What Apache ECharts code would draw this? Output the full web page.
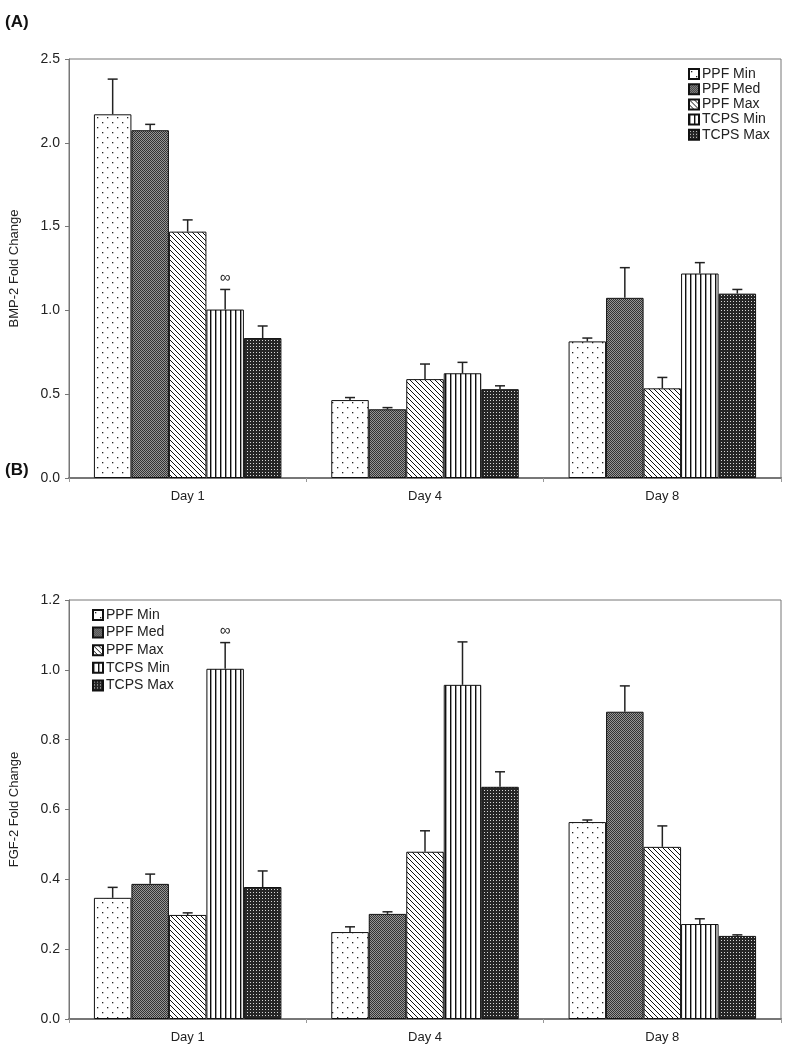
<!DOCTYPE html>
<html>
<head>
<meta charset="utf-8">
<script src="https://cdn.jsdelivr.net/npm/echarts@6/dist/echarts.min.js"></script>
<style>
html,body{margin:0;padding:0;background:#fff;}
#chart{width:795px;height:1050px;}
</style>
</head>
<body>
<div id="chart"></div>
<script>
// ---------- DATA ----------
const categories = ['Day 1', 'Day 4', 'Day 8'];
const seriesNames = ['PPF Min', 'PPF Med', 'PPF Max', 'TCPS Min', 'TCPS Max'];

// Panel A: BMP-2 fold change (mean) and upper error
const bmpPPFMin  = [2.17, 0.465, 0.815];
const bmpPPFMed  = [2.075, 0.41, 1.075];
const bmpPPFMax  = [1.47, 0.59, 0.535];
const bmpTCPSMin = [1.005, 0.625, 1.22];
const bmpTCPSMax = [0.835, 0.53, 1.10];
const bmpErrPPFMin  = [0.21, 0.015, 0.02];
const bmpErrPPFMed  = [0.035, 0.01, 0.18];
const bmpErrPPFMax  = [0.07, 0.09, 0.065];
const bmpErrTCPSMin = [0.12, 0.065, 0.065];
const bmpErrTCPSMax = [0.072, 0.02, 0.025];

// Panel B: FGF-2 fold change (mean) and upper error
const fgfPPFMin  = [0.347, 0.249, 0.564];
const fgfPPFMed  = [0.387, 0.301, 0.880];
const fgfPPFMax  = [0.298, 0.479, 0.493];
const fgfTCPSMin = [1.003, 0.957, 0.272];
const fgfTCPSMax = [0.378, 0.665, 0.238];
const fgfErrPPFMin  = [0.03, 0.015, 0.006];
const fgfErrPPFMed  = [0.028, 0.006, 0.074];
const fgfErrPPFMax  = [0.006, 0.06, 0.06];
const fgfErrTCPSMin = [0.075, 0.123, 0.015];
const fgfErrTCPSMax = [0.046, 0.043, 0.003];

// significance marks: [day index, series index]
const bmpMarks = [[0, 3]];
const fgfMarks = [[0, 3]];
const markSymbol = '∞';

const bmpTicks = {min: 0, max: 2.5, interval: 0.5};
const fgfTicks = {min: 0, max: 1.2, interval: 0.2};

// ---------- PATTERNS ----------
function makeCanvas(w, h, draw) {
  const c = document.createElement('canvas');
  c.width = w; c.height = h;
  const ctx = c.getContext('2d');
  draw(ctx, w, h);
  return {image: c, repeat: 'repeat'};
}
const patterns = [
  // PPF Min: sparse dots
  makeCanvas(10, 10, (ctx, w, h) => {
    ctx.fillStyle = '#fff'; ctx.fillRect(0, 0, w, h);
    ctx.fillStyle = '#222';
    ctx.fillRect(2, 2, 1.3, 1.3);
    ctx.fillRect(7, 7, 1.3, 1.3);
  }),
  // PPF Med: medium grey fine checker
  makeCanvas(2, 2, (ctx) => {
    ctx.fillStyle = '#969696'; ctx.fillRect(0, 0, 2, 2);
    ctx.fillStyle = '#333333'; ctx.fillRect(0, 0, 1, 1); ctx.fillRect(1, 1, 1, 1);
  }),
  // PPF Max: diagonal lines "\"
  makeCanvas(5, 5, (ctx, w, h) => {
    ctx.fillStyle = '#fff'; ctx.fillRect(0, 0, w, h);
    ctx.strokeStyle = '#111'; ctx.lineWidth = 1;
    ctx.beginPath();
    ctx.moveTo(-1, -1); ctx.lineTo(w + 1, h + 1);
    ctx.moveTo(-1, h - 1); ctx.lineTo(1, h + 1);
    ctx.moveTo(w - 1, -1); ctx.lineTo(w + 1, 1);
    ctx.stroke();
  }),
  // TCPS Min: vertical lines
  makeCanvas(5, 4, (ctx, w, h) => {
    ctx.fillStyle = '#fff'; ctx.fillRect(0, 0, w, h);
    ctx.fillStyle = '#111'; ctx.fillRect(0, 0, 1.4, h);
  }),
  // TCPS Max: dark with light dots
  makeCanvas(3, 3, (ctx) => {
    ctx.fillStyle = '#262626'; ctx.fillRect(0, 0, 3, 3);
    ctx.fillStyle = '#d8d8d8'; ctx.fillRect(1, 1, 1, 1);
  })
];

// ---------- BUILD ----------
const bmpVals = [bmpPPFMin, bmpPPFMed, bmpPPFMax, bmpTCPSMin, bmpTCPSMax];
const bmpErrs = [bmpErrPPFMin, bmpErrPPFMed, bmpErrPPFMax, bmpErrTCPSMin, bmpErrTCPSMax];
const fgfVals = [fgfPPFMin, fgfPPFMed, fgfPPFMax, fgfTCPSMin, fgfTCPSMax];
const fgfErrs = [fgfErrPPFMin, fgfErrPPFMed, fgfErrPPFMax, fgfErrTCPSMin, fgfErrTCPSMax];

const CAT_GAP = 0.21;
const FONT = 'Liberation Sans';

function barSeries(vals, axisIdx) {
  return vals.map((arr, i) => ({
    name: seriesNames[i],
    type: 'bar',
    xAxisIndex: axisIdx, yAxisIndex: axisIdx,
    data: arr,
    barGap: '0%',
    barCategoryGap: (CAT_GAP * 100) + '%',
    itemStyle: {color: patterns[i], borderColor: '#111', borderWidth: 1},
    emphasis: {disabled: true},
    z: 2
  }));
}

function errSeries(vals, errs, marks, axisIdx) {
  const data = [];
  vals.forEach((arr, si) => arr.forEach((v, ci) => {
    const mk = marks.some(m => m[0] === ci && m[1] === si) ? 1 : 0;
    data.push([ci, si, v, errs[si][ci], mk]);
  }));
  return {
    type: 'custom',
    xAxisIndex: axisIdx, yAxisIndex: axisIdx,
    encode: {x: 0, y: 2},
    z: 5,
    silent: true,
    data: data,
    renderItem: function (params, api) {
      const ci = api.value(0), si = api.value(1), v = api.value(2), e = api.value(3), mk = api.value(4);
      const band = api.size([1, 0])[0];
      const bw = band * (1 - CAT_GAP) / 5;
      const cx = api.coord([ci, 0])[0] + (si - 2) * bw;
      const y0 = api.coord([ci, v])[1];
      const y1 = api.coord([ci, v + e])[1];
      const st = {stroke: '#222', lineWidth: 1.5};
      const children = [
        {type: 'line', shape: {x1: cx, y1: y0, x2: cx, y2: y1}, style: st},
        {type: 'line', shape: {x1: cx - 5, y1: y1, x2: cx + 5, y2: y1}, style: st}
      ];
      if (mk) {
        children.push({type: 'text', style: {text: markSymbol, x: cx, y: y1 - 4, align: 'center', verticalAlign: 'bottom', fill: '#222', font: '15px ' + FONT}});
      }
      return {type: 'group', children: children};
    }
  };
}

function yAxis(idx, name, ticks) {
  return {
    type: 'value', gridIndex: idx,
    min: ticks.min, max: ticks.max, interval: ticks.interval,
    name: name, nameLocation: 'middle', nameGap: 48,
    nameTextStyle: {fontFamily: FONT, fontSize: 13, color: '#222'},
    axisLine: {show: true, lineStyle: {color: '#777', width: 1}},
    axisTick: {show: true, length: 4, lineStyle: {color: '#777'}},
    axisLabel: {fontFamily: FONT, fontSize: 14, color: '#222', margin: 9, formatter: v => v.toFixed(1)},
    splitLine: {show: false}
  };
}
function xAxis(idx) {
  return {
    type: 'category', gridIndex: idx, data: categories,
    axisLine: {show: true, lineStyle: {color: '#777', width: 2}},
    axisTick: {show: true, length: 4, lineStyle: {color: '#999'}},
    axisLabel: {fontFamily: FONT, fontSize: 13, color: '#222', margin: 12}
  };
}

const option = {
  animation: false,
  backgroundColor: '#fff',
  title: [
    {text: '(A)', left: 0, top: 9, textStyle: {fontFamily: FONT, fontSize: 17, fontWeight: 'bold', color: '#111'}},
    {text: '(B)', left: 0, top: 457, textStyle: {fontFamily: FONT, fontSize: 17, fontWeight: 'bold', color: '#111'}}
  ],
  grid: [
    {left: 69, top: 59, width: 712, height: 419, show: true, borderColor: '#777', borderWidth: 1, backgroundColor: 'transparent'},
    {left: 67, top: 600, width: 714, height: 419, show: true, borderColor: '#777', borderWidth: 1, backgroundColor: 'transparent'}
  ],
  legend: [
    {data: seriesNames, orient: 'vertical', left: 688, top: 67, padding: 0, icon: 'rect', itemWidth: 10, itemHeight: 10, itemGap: 1.2,
     selectedMode: false, textStyle: {fontFamily: FONT, fontSize: 14, color: '#222', padding: [0, 0, 0, -2], lineHeight: 14}},
    {data: seriesNames, orient: 'vertical', left: 92, top: 608, padding: 0, icon: 'rect', itemWidth: 10, itemHeight: 10, itemGap: 3.6,
     selectedMode: false, textStyle: {fontFamily: FONT, fontSize: 14, color: '#222', padding: [0, 0, 0, -2], lineHeight: 14}}
  ],
  xAxis: [xAxis(0), xAxis(1)],
  yAxis: [yAxis(0, 'BMP-2 Fold Change', bmpTicks), yAxis(1, 'FGF-2 Fold Change', fgfTicks)],
  series: [].concat(
    barSeries(bmpVals, 0),
    [errSeries(bmpVals, bmpErrs, bmpMarks, 0)],
    barSeries(fgfVals, 1),
    [errSeries(fgfVals, fgfErrs, fgfMarks, 1)]
  )
};

const chart = echarts.init(document.getElementById('chart'), null, {renderer: 'canvas'});
chart.setOption(option);
</script>
</body>
</html>
